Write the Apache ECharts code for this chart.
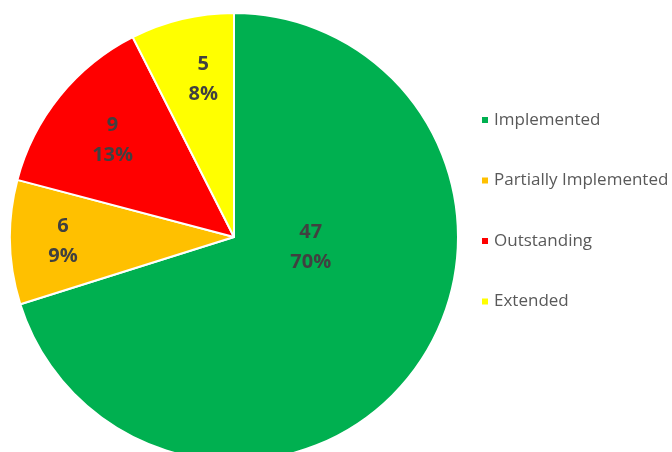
<!DOCTYPE html>
<html lang="en">
<head>
    <meta charset="UTF-8">
    <title>Status</title>
    <style>
        html, body { margin: 0; padding: 0; background: #fff; }
    </style>
</head>
<body>
<div id="chart1" style="width: 672px; height: 452px;"></div>

<script type="text/javascript" src="https://cdn.jsdelivr.net/npm/echarts@6/dist/echarts.min.js"></script>

<script type="text/javascript">
    var statusNames = ['Implemented', 'Partially Implemented', 'Outstanding', 'Extended'];
    var statusCounts = [47, 6, 9, 5];
    var statusColors = ['#00B050', '#FFC000', '#FF0000', '#FFFF00'];
    // nudges to move inside labels where Excel put them
    var labelNudge = [[-16, -58], [-56, 2], [-32, -24], [-4, -46]];

    var pieData = statusNames.map(function (n, i) {
        return { name: n, value: statusCounts[i], itemStyle: { color: statusColors[i] } };
    });

    var myChart1 = echarts.init(document.getElementById('chart1'));
    myChart1.setOption({
        animation: false,
        legend: {
            orient: 'vertical',
            left: 475,
            top: 105,
            icon: 'rect',
            itemWidth: 8,
            itemHeight: 8,
            itemGap: 40.5,
            data: statusNames,
            textStyle: {
                fontFamily: 'Open Sans',
                fontSize: 17,
                lineHeight: 20,
                color: '#595959'
            }
        },
        series: [
            {
                name: 'Status',
                type: 'pie',
                radius: 224,
                center: [234, 237],
                startAngle: 90,
                clockwise: true,
                percentPrecision: 0,
                data: pieData,
                itemStyle: {
                    borderColor: '#ffffff',
                    borderWidth: 2
                },
                label: {
                    position: 'inside',
                    formatter: '{c}\n{d}%',
                    fontFamily: 'Open Sans',
                    fontWeight: 'bold',
                    fontSize: 20,
                    lineHeight: 30,
                    color: '#404040'
                },
                labelLayout: function (params) {
                    var d = labelNudge[params.dataIndex];
                    return { dx: d[0], dy: d[1] };
                },
                emphasis: { disabled: true }
            }
        ]
    });
</script>

</body>
</html>
